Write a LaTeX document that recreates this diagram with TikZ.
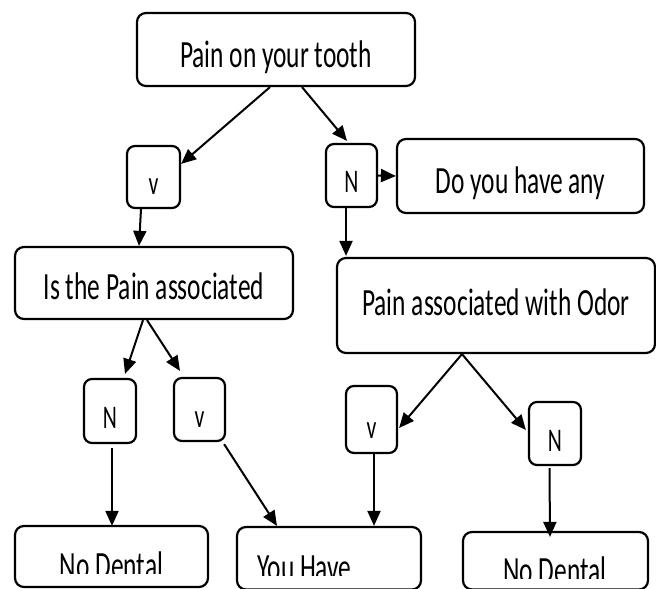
\documentclass[tikz,border=0pt]{standalone}
\usepackage{fontspec}
\setmainfont{Carlito}[FakeStretch=0.66]
\usetikzlibrary{arrows.meta,calc}
\newcommand\txtat[2]{\raisebox{-#1}[0pt][0pt]{#2}}
\tikzset{
  bigbox/.style={draw, line width=2.2pt, rounded corners=9pt, inner sep=0pt,
    font=\fontsize{38.5}{40}\selectfont},
  lblbox/.style={draw, line width=2.2pt, rounded corners=8pt, inner sep=0pt,
    font=\fontsize{33}{34}\selectfont},
  bigtxt/.style={inner sep=0pt, anchor=base, font=\fontsize{38.5}{40}\selectfont},
  arr/.style={line width=2pt, -{Triangle[length=15pt,width=13pt]}},
}
\begin{document}
\begin{tikzpicture}[x=1pt,y=-1pt]
\fill[white] (0,0) rectangle (656,589);
\useasboundingbox (0,0) rectangle (656,589);

% boxes
\node[bigbox, minimum width=278pt, minimum height=73pt] (top) at (276,49.5) {\txtat{17.5pt}{Pain on your tooth}};
\node[lblbox, minimum width=53pt, minimum height=62pt] (vA) at (153.5,177) {\txtat{17pt}{v}};
\node[lblbox, minimum width=51pt, minimum height=63pt] (nA) at (351.5,175.5) {\txtat{16.5pt}{N}};
\node[bigbox, minimum width=247pt, minimum height=74pt] (doB) at (520.5,176) {\txtat{17pt}{Do you have any}};
\node[bigbox, minimum width=278pt, minimum height=72pt] (isB) at (154,283) {\txtat{16pt}{Is the Pain associated}};
\node[bigbox, minimum width=318pt, minimum height=95pt] (odB) at (496,305.5) {\txtat{9.5pt}{Pain associated with Odor}};
\node[lblbox, minimum width=52pt, minimum height=64pt] (nB) at (110,411) {\txtat{17pt}{N}};
\node[lblbox, minimum width=51pt, minimum height=63pt] (vB) at (199.5,409.5) {\txtat{18pt}{v}};
\node[lblbox, minimum width=51pt, minimum height=67pt] (vC) at (371.5,419.5) {\txtat{18.5pt}{v}};
\node[lblbox, minimum width=52pt, minimum height=63pt] (nC) at (555,433.5) {\txtat{17.5pt}{N}};
\node[bigbox, minimum width=193pt, minimum height=61pt] (nd1) at (111.5,556.5) {};
\node[bigbox, minimum width=184pt, minimum height=62.5pt] (yh) at (329,558.25) {};
\node[bigbox, minimum width=185pt, minimum height=57.5pt] (nd2) at (555.5,560.75) {};

% clipped texts of the bottom boxes
\begin{scope}
  \clip (nd1.north west) rectangle (nd1.east |- 0,573);
  \node[bigtxt] (nd1t) at (111.5,578.5) {No Dental};
\end{scope}
\begin{scope}
  \clip (yh.north west) rectangle (yh.east |- 0,575);
  \node[bigtxt, anchor=base west] (yht) at (257,580.5) {You Have};
\end{scope}
\begin{scope}
  \clip (nd2.north west) rectangle (nd2.east |- 0,578);
  \node[bigtxt] (nd2t) at (555,583.5) {No Dental};
\end{scope}

% connectors
\draw[arr] ($(top.south)+(-6,0)$) -- ($(vA.north east)+(0,19)$);
\draw[arr] ($(top.south)+(26,0)$) -- ($(nA.north)+(-4.5,-2)$);
\draw[arr] ($(vA.south)+(-12.5,0)$) -- ($(isB.north)+(-15,0)$);
\draw[arr] ($(nA.south)+(-5.5,0)$) -- ($(odB.north)+(-150,-1)$);
\draw[arr] (nA.east) -- (doB.west);
\draw[arr] ($(isB.south)+(-11,0)$) -- ($(nB.north)+(15,-4)$);
\draw[arr] ($(isB.south)+(-7,0)$) -- ($(vB.north)+(-19.5,-6)$);
\draw[arr] ($(odB.south)+(-34,0)$) -- ($(vC.east)+(1,8.5)$);
\draw[arr] ($(odB.south)+(-34,0)$) -- ($(nC.west)+(-2,-3.5)$);
\draw[arr] ($(nB.south)+(2,4)$) -- ($(nd1.north)+(0.5,1)$);
\draw[arr] ($(vB.south east)+(-2,2)$) -- ($(yh.north)+(-52,0)$);
\draw[arr] ($(vC.south)+(2.5,0)$) -- ($(yh.north)+(45,0)$);
\draw[arr] ($(nC.south)+(-5.5,2)$) -- ($(nd2.north)+(-5.5,6)$);
\end{tikzpicture}
\end{document}
